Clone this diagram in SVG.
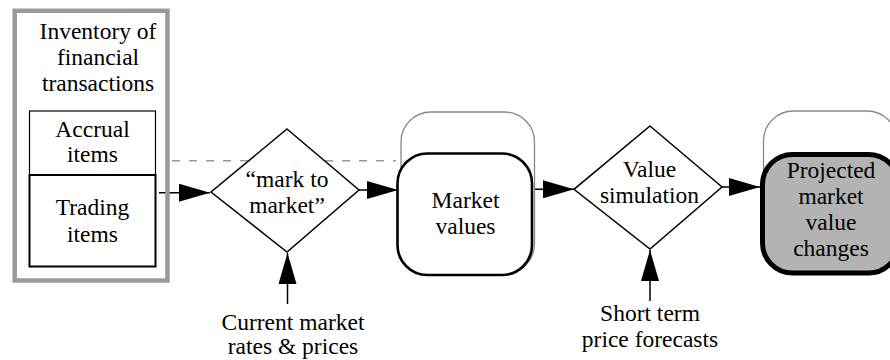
<svg xmlns="http://www.w3.org/2000/svg" width="890" height="360" viewBox="0 0 890 360">
<defs>
<marker id="ah" markerUnits="userSpaceOnUse" markerWidth="32" markerHeight="18" refX="31" refY="9" orient="auto">
<path d="M0,0 L31,9 L0,18 z" fill="#000"/>
</marker>
<style>
text{font-family:"Liberation Serif","Times New Roman",serif;font-size:23.5px;fill:#000;text-anchor:middle}
.conn{stroke:#000;stroke-width:1.5;fill:none}
.dash{stroke:#999;stroke-width:1.5;fill:none;stroke-dasharray:8 9}
.dia{fill:#fff;stroke:#000;stroke-width:1.5}
.ghost{fill:#fff;stroke:#888;stroke-width:1.3}
</style>
</defs>
<rect width="890" height="360" fill="#fff"/>
<g id="connectors">
<line class="dash" x1="172" y1="160.7" x2="396" y2="160.7"/>
<line class="conn" x1="159" y1="192.7" x2="210" y2="192.7" marker-end="url(#ah)"/>
<line class="conn" x1="359" y1="190" x2="398" y2="190" marker-end="url(#ah)"/>
<line class="conn" x1="533" y1="189.3" x2="574" y2="189.3" marker-end="url(#ah)"/>
<line class="conn" x1="722" y1="187" x2="760" y2="187" marker-end="url(#ah)"/>
<line class="conn" x1="287.5" y1="304" x2="287.5" y2="253" marker-end="url(#ah)"/>
<line class="conn" x1="650" y1="301" x2="650" y2="250" marker-end="url(#ah)"/>
</g>
<g id="inventory">
<rect x="14.7" y="10.8" width="152.8" height="269.7" fill="none" stroke="#999" stroke-width="4.5"/>
<text x="98" y="38.5">Inventory of</text>
<text x="98" y="65">financial</text>
<text x="98" y="91">transactions</text>
</g>
<g id="accrual">
<rect x="29.5" y="111" width="126" height="64" fill="#fff" stroke="#000" stroke-width="1.2"/>
<text x="92.5" y="137.3">Accrual</text>
<text x="92.5" y="162.3">items</text>
</g>
<g id="trading">
<rect x="29.5" y="175" width="126" height="91.5" fill="#fff" stroke="#000" stroke-width="2"/>
<text x="92.5" y="215">Trading</text>
<text x="92.5" y="241.5">items</text>
</g>
<g id="mark-to-market">
<polygon class="dia" points="287,129 359,190 287,252 211,192"/>
<text x="287" y="186.7">“mark to</text>
<text x="287" y="212.7">market”</text>
</g>
<g id="market-values">
<rect class="ghost" x="401" y="112" width="133.5" height="162" rx="30"/>
<rect x="397.5" y="153.5" width="134.5" height="121.5" rx="30" fill="#fff" stroke="#000" stroke-width="2.6"/>
<text x="465.5" y="208.3">Market</text>
<text x="465.5" y="234">values</text>
</g>
<g id="value-simulation">
<polygon class="dia" points="650,126 722,187 650,249 574,189.3"/>
<text x="649.5" y="176.7">Value</text>
<text x="649.5" y="202.7">simulation</text>
</g>
<g id="projected">
<rect class="ghost" x="763.5" y="111" width="133.5" height="162" rx="30"/>
<rect x="762.5" y="154.5" width="136" height="118.5" rx="30" fill="#b3b3b3" stroke="#000" stroke-width="5"/>
<text x="831" y="178.3">Projected</text>
<text x="831" y="204">market</text>
<text x="831" y="230">value</text>
<text x="831" y="256">changes</text>
</g>
<g id="current-market">
<text x="293" y="330">Current market</text>
<text x="293" y="354">rates &amp; prices</text>
</g>
<g id="short-term">
<text x="650" y="320.7">Short term</text>
<text x="650" y="346.5">price forecasts</text>
</g>
</svg>
